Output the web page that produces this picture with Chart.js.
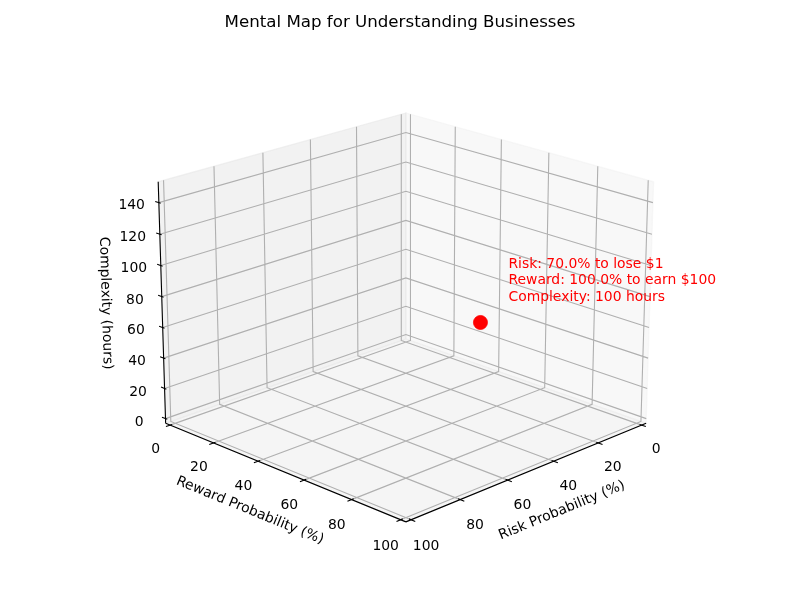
<!DOCTYPE html>
<html><head><meta charset="utf-8">
<script src="https://cdn.jsdelivr.net/npm/chart.js@4/dist/chart.umd.min.js"></script>
<style>html,body{margin:0;padding:0;background:#fff;}#wrap{width:800px;height:600px;}</style>
</head><body><div id="wrap"><canvas id="c" width="800" height="600"></canvas></div>
<script>
// ---------- data ----------
const chartTitle = 'Mental Map for Understanding Businesses';
const riskLabel = 'Risk Probability (%)';
const rewardLabel = 'Reward Probability (%)';
const complexityLabel = 'Complexity (hours)';
const riskLimits = [0, 100];
const rewardLimits = [0, 100];
const complexityLimits = [0, 150];
const riskTicks = [0, 20, 40, 60, 80, 100];
const rewardTicks = [0, 20, 40, 60, 80, 100];
const complexityTicks = [0, 20, 40, 60, 80, 100, 120, 140];
const riskValues = [70];
const rewardValues = [100];
const complexityValues = [100];
const annotationLines = ['Risk: 70.0% to lose $1', 'Reward: 100.0% to earn $100', 'Complexity: 100 hours'];

// ---------- view (matplotlib-like perspective, elev 20, azim 45) ----------
const ELEV = 20, AZIM = 45, DIST = 10;
const aspNorm = 1.8294640721620434 / Math.sqrt(41);
const A = [4 * aspNorm, 4 * aspNorm, 3 * aspNorm];
const S = 2955, CX = 406, CY = 304.5;
const e = ELEV * Math.PI / 180, a = AZIM * Math.PI / 180;
const W = [Math.cos(e) * Math.cos(a), Math.cos(e) * Math.sin(a), Math.sin(e)];
let U = [-W[1], W[0], 0];
const un = Math.hypot(U[0], U[1]); U = [U[0] / un, U[1] / un, 0];
const V = [W[1] * U[2] - W[2] * U[1], W[2] * U[0] - W[0] * U[2], W[0] * U[1] - W[1] * U[0]];
const lims = [riskLimits, rewardLimits, complexityLimits];
const rng = lims.map(l => l[1] - l[0]);
const pad = rng.map(r => r / 48);
const lo = lims.map((l, i) => l[0] - pad[i]);
const hi = lims.map((l, i) => l[1] + pad[i]);

function project(x, y, z) {
  const p = [x, y, z];
  const q = p.map((v, i) => (v - lims[i][0]) / rng[i] * A[i] - A[i] / 2);
  const uq = U[0] * q[0] + U[1] * q[1] + U[2] * q[2];
  const vq = V[0] * q[0] + V[1] * q[1] + V[2] * q[2];
  const wq = W[0] * q[0] + W[1] * q[1] + W[2] * q[2];
  const den = DIST - wq;
  return { x: uq / den, y: vq / den };
}
const GAP = { x: null, y: null };
function polyline(pts) { return pts.map(p => project(p[0], p[1], p[2])); }
function segments(list) {
  const out = [];
  list.forEach(seg => { polyline(seg).forEach(p => out.push(p)); out.push(GAP); });
  return out;
}

// panes (far side: x=lo, y=lo, z=lo)
const paneX = polyline([[lo[0], lo[1], lo[2]], [lo[0], hi[1], lo[2]], [lo[0], hi[1], hi[2]], [lo[0], lo[1], hi[2]], [lo[0], lo[1], lo[2]]]);
const paneY = polyline([[lo[0], lo[1], lo[2]], [hi[0], lo[1], lo[2]], [hi[0], lo[1], hi[2]], [lo[0], lo[1], hi[2]], [lo[0], lo[1], lo[2]]]);
const paneZ = polyline([[lo[0], lo[1], lo[2]], [hi[0], lo[1], lo[2]], [hi[0], hi[1], lo[2]], [lo[0], hi[1], lo[2]], [lo[0], lo[1], lo[2]]]);

// grid lines
const gridSegs = [];
riskTicks.forEach(t => gridSegs.push([[t, hi[1], lo[2]], [t, lo[1], lo[2]], [t, lo[1], hi[2]]]));
rewardTicks.forEach(t => gridSegs.push([[hi[0], t, lo[2]], [lo[0], t, lo[2]], [lo[0], t, hi[2]]]));
complexityTicks.forEach(t => gridSegs.push([[hi[0], lo[1], t], [lo[0], lo[1], t], [lo[0], hi[1], t]]));

// axis lines
const axisSegs = [
  [[lo[0], hi[1], lo[2]], [hi[0], hi[1], lo[2]]],
  [[hi[0], lo[1], lo[2]], [hi[0], hi[1], lo[2]]],
  [[hi[0], lo[1], lo[2]], [hi[0], lo[1], hi[2]]]
];
// tick marks
const dlt = rng.map(r => r / 12);
const tickSegs = [];
riskTicks.forEach(t => tickSegs.push([[t, hi[1] + 0.2 * dlt[1], lo[2]], [t, hi[1] - 0.1 * dlt[1], lo[2]]]));
rewardTicks.forEach(t => tickSegs.push([[hi[0] + 0.2 * dlt[0], t, lo[2]], [hi[0] - 0.1 * dlt[0], t, lo[2]]]));
complexityTicks.forEach(t => tickSegs.push([[hi[0], lo[1] - 0.2 * dlt[1], t], [hi[0], lo[1] + 0.1 * dlt[1], t]]));

const points = riskValues.map((r, i) => project(r, rewardValues[i], complexityValues[i]));

const FONT = '"DejaVu Sans", sans-serif';
const textPlugin = {
  id: 'texts3d',
  afterDatasetsDraw(chart) {
    const ctx = chart.ctx, sx = chart.scales.x, sy = chart.scales.y;
    const px = p => ({ x: sx.getPixelForValue(p.x), y: sy.getPixelForValue(p.y) });
    const P = (x, y, z) => px(project(x, y, z));
    ctx.save();
    ctx.fillStyle = '#000';
    ctx.font = '13.9px ' + FONT;
    ctx.textAlign = 'center'; ctx.textBaseline = 'middle';
    riskTicks.forEach(t => { const p = P(t, hi[1] + 0.06 * rng[1], lo[2] - 0.085 * rng[2]); ctx.fillText(String(t), p.x, p.y); });
    rewardTicks.forEach(t => { const p = P(hi[0] + 0.06 * rng[0], t, lo[2] - 0.085 * rng[2]); ctx.fillText(String(t), p.x, p.y); });
    complexityTicks.forEach(t => { const p = P(hi[0] + 0.076 * rng[0], lo[1] - 0.035 * rng[1], t); ctx.fillText(String(t), p.x, p.y); });
    function axisLabel(text, pos, e1, e2) {
      const p = P(...pos), a1 = P(...e1), a2 = P(...e2);
      let ang = Math.atan2(a2.y - a1.y, a2.x - a1.x);
      if (ang > Math.PI / 2) ang -= Math.PI;
      if (ang <= -Math.PI / 2) ang += Math.PI;
      ctx.save(); ctx.translate(p.x, p.y); ctx.rotate(ang); ctx.fillText(text, 0, 0); ctx.restore();
    }
    const midX = (riskLimits[0] + riskLimits[1]) / 2, midY = (rewardLimits[0] + rewardLimits[1]) / 2, midZ = (complexityLimits[0] + complexityLimits[1]) / 2;
    axisLabel(riskLabel, [midX, hi[1] + 0.125 * rng[1], lo[2] - 0.12 * rng[2]], [lo[0], hi[1], lo[2]], [hi[0], hi[1], lo[2]]);
    axisLabel(rewardLabel, [hi[0] + 0.125 * rng[0], midY, lo[2] - 0.12 * rng[2]], [hi[0], lo[1], lo[2]], [hi[0], hi[1], lo[2]]);
    axisLabel(complexityLabel, [hi[0] + 0.136 * rng[0], lo[1] - 0.101 * rng[1], midZ + 0.017 * rng[2]], [hi[0], lo[1], lo[2]], [hi[0], lo[1], hi[2]]);
    // title
    ctx.font = '16.67px ' + FONT;
    ctx.fillText(chartTitle, 400, 22.5);
    // annotation next to the point
    ctx.fillStyle = '#ff0000';
    ctx.font = '13.9px ' + FONT;
    ctx.textAlign = 'left';
    points.forEach(pt => {
      const p = px(pt);
      annotationLines.forEach((ln, k) => ctx.fillText(ln, p.x + 28, p.y - 58 + k * 16.3));
    });
    ctx.restore();
  }
};

const lw = 0.8 * 100 / 72;
new Chart(document.getElementById('c'), {
  type: 'scatter',
  data: {
    datasets: [
      { type: 'line', data: paneX, fill: 'shape', backgroundColor: 'rgba(242,242,242,0.5)', borderColor: 'rgba(242,242,242,0.5)', borderWidth: 1.3, pointRadius: 0, order: 20 },
      { type: 'line', data: paneY, fill: 'shape', backgroundColor: 'rgba(230,230,230,0.5)', borderColor: 'rgba(230,230,230,0.5)', borderWidth: 1.3, pointRadius: 0, order: 19 },
      { type: 'line', data: paneZ, fill: 'shape', backgroundColor: 'rgba(236,236,236,0.5)', borderColor: 'rgba(236,236,236,0.5)', borderWidth: 1.3, pointRadius: 0, order: 18 },
      { type: 'line', data: segments(gridSegs), fill: false, borderColor: '#b0b0b0', borderWidth: lw, pointRadius: 0, spanGaps: false, order: 10 },
      { type: 'line', data: segments(axisSegs), fill: false, borderColor: '#000', borderWidth: lw, pointRadius: 0, spanGaps: false, order: 9 },
      { type: 'line', data: segments(tickSegs), fill: false, borderColor: '#000', borderWidth: lw, pointRadius: 0, spanGaps: false, order: 8 },
      { type: 'scatter', data: points, backgroundColor: '#ff0000', borderColor: '#ff0000', borderWidth: 0.8, pointRadius: 7, order: 1 }
    ]
  },
  options: {
    responsive: false, animation: false, events: [],
    layout: { padding: 0 },
    scales: {
      x: { type: 'linear', display: false, bounds: 'data', min: -CX / S, max: (800 - CX) / S },
      y: { type: 'linear', display: false, bounds: 'data', min: -(600 - CY) / S, max: CY / S }
    },
    plugins: { legend: { display: false }, tooltip: { enabled: false }, title: { display: false } }
  },
  plugins: [textPlugin]
});
</script></body></html>
